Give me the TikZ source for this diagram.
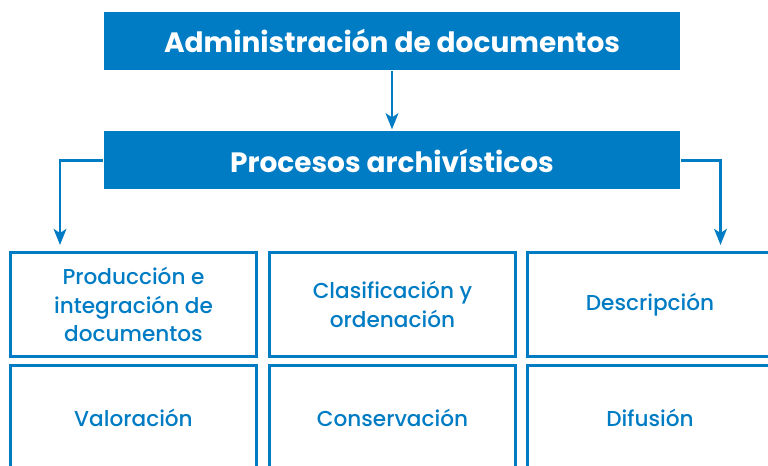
\documentclass[tikz,border=0pt]{standalone}
\usepackage{fontspec}
\setmainfont{Poppins}
\newfontfamily\boxfont{Poppins Medium}
\usetikzlibrary{arrows.meta}
\definecolor{docblue}{RGB}{0,124,196}

\begin{document}
\begin{tikzpicture}[x=0.75pt,y=-0.75pt,-{Stealth[length=12pt,width=9.5pt,inset=3pt]},
  line width=2.2pt,draw=docblue,
  head node/.style={fill=docblue,text=white,minimum width=432pt,minimum height=43.5pt,
    inner sep=0pt,font=\bfseries\fontsize{21}{24}\selectfont},
  proc node/.style={draw=docblue,line width=2.2pt,text=docblue,minimum width=184pt,
    minimum height=78pt,inner sep=0pt,align=center,font=\boxfont\fontsize{16.2}{21.5}\selectfont}]

  \useasboundingbox (0,0) rectangle (768,466);
  \clip (0,0) rectangle (768,466);

  \node[head node] (admin) at (392,41) {Administración de documentos};
  \node[head node] (proc) at (392,160.5) {Procesos archivísticos};

  \node[proc node] (prod) at (133.5,304.5) {Producción e\\integración de\\documentos};
  \node[proc node] (clas) at (392.5,304.5) {Clasificación y\\ordenación};
  \node[proc node] (desc) at (650,304.5) {Descripción};
  \node[proc node] (valo) at (133.5,417.5) {Valoración};
  \node[proc node] (cons) at (392.5,417.5) {Conservación};
  \node[proc node] (difu) at (650,417.5) {Difusión};

  \coordinate (lefttip) at (60,245);
  \coordinate (righttip) at (720.5,245);

  \draw[shorten >=0.5pt] (admin) -- (proc);
  \draw (proc.west) -| (lefttip);
  \draw (proc.east) -| (righttip);
\end{tikzpicture}
\end{document}
